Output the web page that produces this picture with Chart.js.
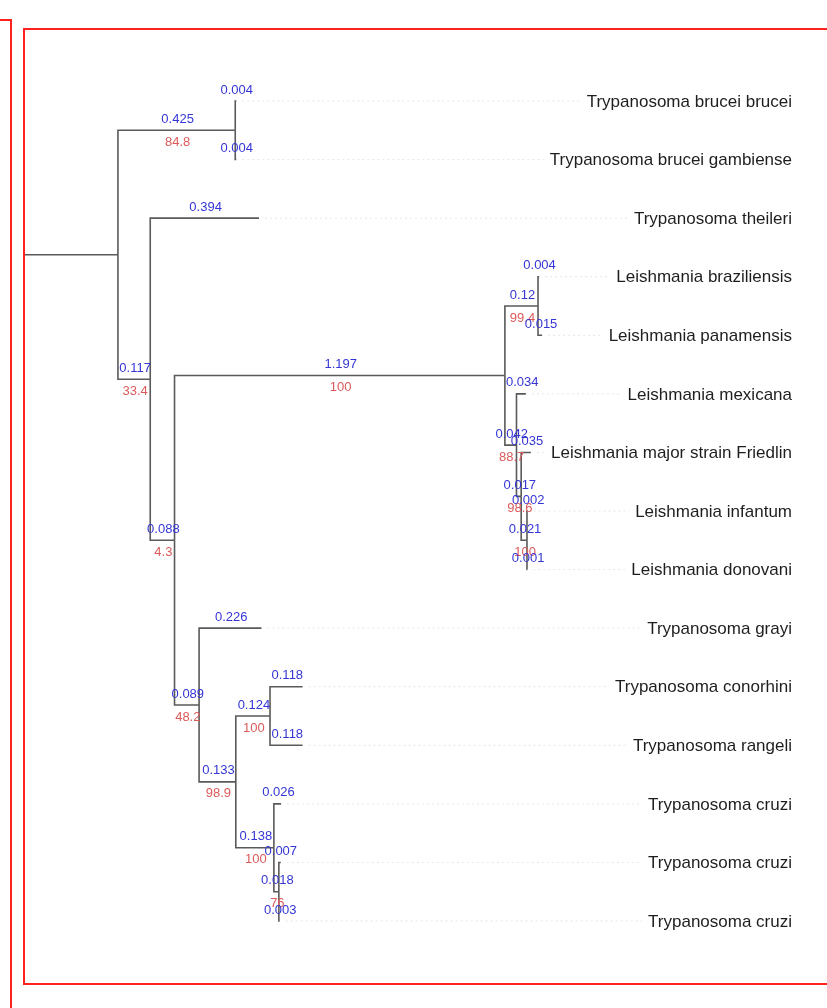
<!DOCTYPE html>
<html>
<head>
<meta charset="utf-8">
<script src="https://cdn.jsdelivr.net/npm/chart.js@4.4.1/dist/chart.umd.min.js"></script>
<style>
  html, body { margin: 0; padding: 0; background: #fff; }
  #wrap { position: relative; width: 827px; height: 1008px; overflow: hidden; }
  #c { position: absolute; left: 0; top: 0; }
  .frame { position: absolute; border: 2px solid #ff2020; box-sizing: border-box; pointer-events: none; }
</style>
</head>
<body>
<div id="wrap">
  <canvas id="c" width="827" height="1008"></canvas>
  <div class="frame" style="left:-10px; top:19px; width:22px; height:1100px;"></div>
  <div class="frame" style="left:23px; top:28px; width:900px; height:957px;"></div>
</div>
<script>
// ---- Tree data ----
// leaf names in display order (top to bottom)
const leafNames = [
  "Trypanosoma brucei brucei",
  "Trypanosoma brucei gambiense",
  "Trypanosoma theileri",
  "Leishmania braziliensis",
  "Leishmania panamensis",
  "Leishmania mexicana",
  "Leishmania major strain Friedlin",
  "Leishmania infantum",
  "Leishmania donovani",
  "Trypanosoma grayi",
  "Trypanosoma conorhini",
  "Trypanosoma rangeli",
  "Trypanosoma cruzi",
  "Trypanosoma cruzi",
  "Trypanosoma cruzi"
];
// nodes: id, parent id, branch length, bootstrap (null if none), leaf index (null for internal)
const nodeIds      = ["R","N1","L1","L2","N2","L3","N3","N4","N5","L4","L5","N6","L6","N7","L7","N8","L8","L9","N9","L10","N10","N11","L11","L12","N12","L13","N13","L14","L15"];
const nodeParents  = [null,"R","N1","N1","R","N2","N2","N3","N4","N5","N5","N4","N6","N6","N7","N7","N8","N8","N3","N9","N9","N10","N11","N11","N10","N12","N12","N13","N13"];
const branchLength = [0,0.425,0.004,0.004,0.117,0.394,0.088,1.197,0.12,0.004,0.015,0.042,0.034,0.017,0.035,0.021,0.002,0.001,0.089,0.226,0.133,0.124,0.118,0.118,0.138,0.026,0.018,0.007,0.003];
const bootstrap    = [null,84.8,null,null,33.4,null,4.3,100,99.4,null,null,88.7,null,98.6,null,100,null,null,48.2,null,98.9,100,null,null,100,null,76,null,null];
const leafIndex    = [null,null,0,1,null,2,null,null,null,3,4,null,5,null,6,null,7,8,null,9,null,null,10,11,null,12,null,13,14];
const rootStub = 0.344;

// ---- Layout from data (branch lengths -> x, leaf order -> y) ----
const N = nodeIds.length;
const idx = {}; nodeIds.forEach((id,i)=>idx[id]=i);
const children = nodeIds.map(()=>[]);
nodeParents.forEach((p,i)=>{ if(p!==null) children[idx[p]].push(i); });
const nx = new Array(N), ny = new Array(N);
function layout(i, x0){
  nx[i] = x0 + branchLength[i];
  if (leafIndex[i] !== null) { ny[i] = leafIndex[i] + 1; return; }
  children[i].forEach(c=>layout(c, nx[i]));
  const ys = children[i].map(c=>ny[c]);
  ny[i] = (Math.min(...ys) + Math.max(...ys)) / 2;
}
layout(idx["R"], 0);

const datasets = [];
const lineStyle = { showLine:true, pointRadius:0, borderColor:'#5a5a5a', borderWidth:1.6, fill:false, tension:0 };
datasets.push(Object.assign({ data:[{x:-rootStub, y:ny[0]},{x:0,y:ny[0]}] }, lineStyle));
for (let i=0;i<N;i++){
  if (nodeParents[i]===null) continue;
  const p = idx[nodeParents[i]];
  datasets.push(Object.assign({ data:[{x:nx[p],y:ny[p]},{x:nx[p],y:ny[i]},{x:nx[i],y:ny[i]}] }, lineStyle));
}

const labelRight = 792;
const labelPlugin = {
  id:'treeLabels',
  afterDatasetsDraw(chart){
    const ctx = chart.ctx, xs = chart.scales.x, ys = chart.scales.y;
    ctx.save();
    // leaf labels and faint guide lines
    ctx.font = '17px "Liberation Sans", Arial, sans-serif';
    ctx.textAlign = 'right'; ctx.textBaseline = 'middle';
    for (let i=0;i<N;i++){
      if (leafIndex[i]===null) continue;
      const py = ys.getPixelForValue(ny[i]);
      const tx = xs.getPixelForValue(nx[i]);
      const name = leafNames[leafIndex[i]];
      const w = ctx.measureText(name).width;
      ctx.save();
      ctx.strokeStyle = 'rgba(200,200,200,0.45)'; ctx.lineWidth = 1; ctx.setLineDash([2,3]);
      ctx.beginPath(); ctx.moveTo(tx+6, py); ctx.lineTo(labelRight - w - 6, py); ctx.stroke();
      ctx.restore();
      ctx.fillStyle = '#1e1e1e';
      ctx.fillText(name, labelRight, py+1);
    }
    // branch length / bootstrap labels
    ctx.font = '13px "Liberation Sans", Arial, sans-serif';
    ctx.textAlign = 'center'; ctx.textBaseline = 'middle';
    for (let i=0;i<N;i++){
      if (nodeParents[i]===null) continue;
      const p = idx[nodeParents[i]];
      const mx = (xs.getPixelForValue(nx[p]) + xs.getPixelForValue(nx[i]))/2;
      const py = ys.getPixelForValue(ny[i]);
      ctx.fillStyle = '#3535d6';
      ctx.fillText(String(branchLength[i]), mx + 1, py - 11);
      if (bootstrap[i]!==null){
        ctx.fillStyle = '#dc5a5a';
        ctx.fillText(String(bootstrap[i]), mx + 1, py + 12);
      }
    }
    ctx.restore();
  }
};

new Chart(document.getElementById('c'), {
  type:'scatter',
  data:{ datasets },
  options:{
    responsive:false, animation:false, events:[],
    layout:{ padding:{ left:23, right:0, top:29, bottom:25 } },
    plugins:{ legend:{display:false}, tooltip:{enabled:false}, title:{display:false} },
    scales:{
      x:{ type:'linear', display:false, min:-rootStub, max:-rootStub + 804/276 },
      y:{ type:'linear', display:false, reverse:true, min:1 - 72/58.57, max:15 + 62/58.57 }
    }
  },
  plugins:[labelPlugin]
});
</script>
</body>
</html>
